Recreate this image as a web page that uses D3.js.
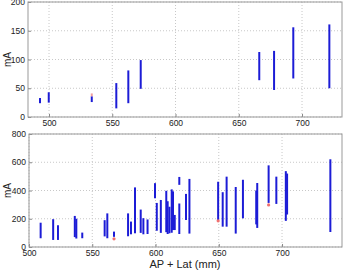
<!DOCTYPE html>
<html>
<head>
<meta charset="utf-8">
<script src="https://cdn.jsdelivr.net/npm/d3@7"></script>
<style>
  body { margin: 0; background: #fff; }
  text { font-family: "Liberation Sans", Arial, sans-serif; fill: #222; }
</style>
</head>
<body>
<div id="chart"></div>
<script>
// top panel: each vertical bar is [position, low mA, high mA]
var topX = [492.9, 499.8, 533.8, 553.2, 562.7, 572.5, 666.2, 677.9, 693.1, 721.6];
var topLo = [24, 25, 26, 15, 24, 49, 64, 47, 67, 50];
var topHi = [33, 43, 36, 59, 81, 99, 113, 115, 156, 161];
var topRedX = [533.8];
var topRedLo = [36];
var topRedHi = [41];

// bottom panel
var botX = [509.2, 519.1, 522.9, 536.2, 537.4, 542.1, 559.8, 561.9, 567.2, 578.3, 580.6, 583.8, 588.3,
  590.4, 593.7, 599.6, 601.0, 604.2, 608.5, 609.6, 611.0, 612.8, 613.8, 615.2, 618.8, 618.8, 624.1,
  626.8, 649.5, 653.1, 656.2, 663.4, 669.1, 679.6, 680.4, 689.4, 695.5, 703.0, 704.0, 738.2];
var botLo = [62, 50, 50, 70, 60, 62, 75, 62, 72, 76, 90, 97, 100, 90, 92, 345, 115, 100, 105, 92, 97,
  101, 120, 120, 92, 440, 191, 95, 191, 144, 144, 95, 203, 160, 135, 312, 305, 185, 230, 106];
var botHi = [172, 197, 154, 220, 200, 102, 190, 238, 109, 238, 180, 422, 265, 204, 195, 452, 312, 333,
  398, 324, 285, 408, 394, 227, 308, 496, 376, 482, 462, 388, 498, 425, 476, 400, 453, 578, 498, 537, 520, 621];
var botRedX = [567.2, 649.5, 689.4];
var botRedY = [58, 185, 298];

var W = 344, H = 270;
var svg = d3.select("#chart").append("svg").attr("width", W).attr("height", H);

function panel(opt) {
  var x = d3.scaleLinear().domain(opt.xdom).range([opt.left, opt.right]);
  var y = d3.scaleLinear().domain(opt.ydom).range([opt.bottom, opt.top]);
  var g = svg.append("g");

  // dotted grid
  g.selectAll(".gx").data(opt.xticks).enter().append("line")
    .attr("x1", function(d){ return x(d); }).attr("x2", function(d){ return x(d); })
    .attr("y1", opt.top).attr("y2", opt.bottom)
    .attr("stroke", "#c8c8c8").attr("stroke-dasharray", "1,2");
  g.selectAll(".gy").data(opt.yticks).enter().append("line")
    .attr("x1", opt.left).attr("x2", opt.right)
    .attr("y1", function(d){ return y(d); }).attr("y2", function(d){ return y(d); })
    .attr("stroke", "#c8c8c8").attr("stroke-dasharray", "1,2");

  // axes with inward ticks
  var ax = d3.axisBottom(x).tickValues(opt.xticks).tickSizeInner(-3).tickSizeOuter(0).tickPadding(3);
  var ay = d3.axisLeft(y).tickValues(opt.yticks).tickSizeInner(-3).tickSizeOuter(0).tickPadding(3);
  var gx = g.append("g").attr("transform", "translate(0," + opt.bottom + ")").call(ax);
  var gy = g.append("g").attr("transform", "translate(" + opt.left + ",0)").call(ay);
  [gx, gy].forEach(function(a){
    a.select(".domain").remove();
    a.selectAll("line").attr("stroke", "#888");
    a.selectAll("text").style("font-size", "8.5px").attr("fill", "#222");
  });

  g.append("rect").attr("x", opt.left).attr("y", opt.top)
    .attr("width", opt.right - opt.left).attr("height", opt.bottom - opt.top)
    .attr("fill", "none").attr("stroke", "#999");

  // bars
  g.selectAll(".seg").data(opt.xs).enter().append("line")
    .attr("x1", function(d){ return x(d); }).attr("x2", function(d){ return x(d); })
    .attr("y1", function(d, i){ return y(opt.lo[i]); })
    .attr("y2", function(d, i){ return y(opt.hi[i]); })
    .attr("stroke", "#1c1cd6").attr("stroke-width", 2);

  // y title, centred near x=8 like the reference
  g.append("text")
    .attr("transform", "translate(11," + ((opt.top + opt.bottom) / 2) + ") rotate(-90)")
    .attr("text-anchor", "middle").style("font-size", "10px").text("mA");

  return {x: x, y: y, g: g};
}

var p1 = panel({
  xdom: [483.4, 731.6], ydom: [0, 200], left: 28, right: 342, top: 2, bottom: 117,
  xticks: [500, 550, 600, 650, 700], yticks: [0, 50, 100, 150, 200],
  xs: topX, lo: topLo, hi: topHi
});
p1.g.selectAll(".red").data(topRedX).enter().append("line")
  .attr("x1", function(d){ return p1.x(d); }).attr("x2", function(d){ return p1.x(d); })
  .attr("y1", function(d, i){ return p1.y(topRedLo[i]); })
  .attr("y2", function(d, i){ return p1.y(topRedHi[i]); })
  .attr("stroke", "#f0a0a0").attr("stroke-width", 2);

var p2 = panel({
  xdom: [500, 747.4], ydom: [0, 800], left: 29, right: 342, top: 134, bottom: 247,
  xticks: [500, 550, 600, 650, 700], yticks: [0, 200, 400, 600, 800],
  xs: botX, lo: botLo, hi: botHi
});
p2.g.selectAll(".red").data(botRedX).enter().append("circle")
  .attr("cx", function(d){ return p2.x(d); })
  .attr("cy", function(d, i){ return p2.y(botRedY[i]); })
  .attr("r", 1.6).attr("fill", "#f07070");

svg.append("text").attr("x", 185).attr("y", 268).attr("text-anchor", "middle")
  .style("font-size", "11px").text("AP + Lat (mm)");
</script>
</body>
</html>
